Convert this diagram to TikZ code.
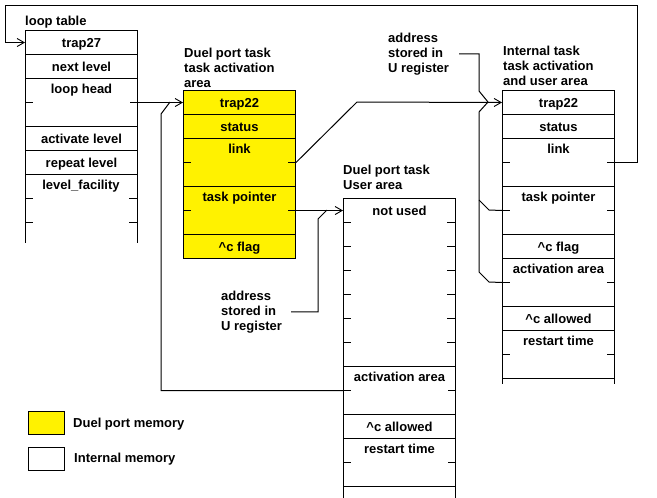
\documentclass[tikz,border=0pt]{standalone}
\usepackage{fontspec}
\setmainfont{Liberation Sans}
\usetikzlibrary{arrows.meta}
\tikzset{
  memcell/.style={draw, line width=1pt, rectangle, inner sep=0pt, minimum width=112pt},
  celltext/.style={anchor=base, inner sep=0pt, font=\fontsize{13}{15}\selectfont\bfseries},
  title/.style={inner sep=0pt, align=left, font=\fontsize{13}{15}\selectfont\bfseries},
  tick/.style={line width=1pt},
  wire/.style={line width=1pt},
  arr/.style={wire, -{Straight Barb[length=7pt,width=8pt,line width=0.9pt]}},
  legbox/.style={draw, line width=1pt, rectangle, inner sep=0pt, minimum width=36pt, minimum height=23pt, anchor=north west},
}
\newcommand\memrow[6][white]{%
  \node[memcell, fill=#1, minimum height=#5*24pt, anchor=north west] (#2) at (#3,#4) {};
  \ifnum#5=1
    \node[celltext] (#2-t) at ([yshift=-17pt]#2.north) {#6};
  \else
    \node[celltext] (#2-t) at ([yshift=-15pt]#2.north) {#6};
    \draw[tick] (#2.west) -- ++(8,0) (#2.east) -- ++(-8,0);
  \fi}
\begin{document}
\begin{tikzpicture}[x=1pt, y=-1pt]
\useasboundingbox (0,0) rectangle (657,498);
\fill[white] (0,0) rectangle (657,498);

% ---------- loop table ----------
\node[title, anchor=base west] (lt) at (25,25) {loop table};
\memrow{ltrap}{25}{30}{1}{trap27}
\memrow{lnext}{25}{54}{1}{next level}
\memrow{lh}{25}{78}{2}{loop head}
\memrow{lact}{25}{126}{1}{activate level}
\memrow{lrep}{25}{150}{1}{repeat level}
\node[celltext] (lf) at (81,189) {level\_facility};
\draw[tick] (25,174) -- (25,243) (137,174) -- (137,243);
\foreach \yy in {198,222} \draw[tick] (25,\yy) -- ++(8,0) (137,\yy) -- ++(-8,0);

% ---------- duel port task activation area ----------
\node[title, anchor=north west] (dat) at (184,47.5) {Duel port task\\task activation\\area};
\memrow[yellow]{dtrap}{183}{90}{1}{trap22}
\memrow[yellow]{dstat}{183}{114}{1}{status}
\memrow[yellow]{dlink}{183}{138}{2}{link}
\memrow[yellow]{dtp}{183}{186}{2}{task pointer}
\memrow[yellow]{dcf}{183}{234}{1}{\^{}c flag}

% ---------- duel port task user area ----------
\node[title, anchor=north west] (dut) at (343,164.5) {Duel port task\\User area};
\node[memcell, minimum height=168pt, anchor=north west] (nu) at (343,198) {};
\node[celltext] (nu-t) at ([yshift=-17pt]nu.north) {not used};
\foreach \k in {1,...,6} \draw[tick] (343,198+24*\k) -- ++(8,0) (455,198+24*\k) -- ++(-8,0);
\memrow{uact}{343}{366}{2}{activation area}
\memrow{uca}{343}{414}{1}{\^{}c allowed}
\memrow{urt}{343}{438}{2}{restart time}
\draw[tick] (343,486) -- (343,499) (455,486) -- (455,499);

% ---------- internal task ----------
\node[title, anchor=north west] (itt) at (503,46) {Internal task\\task activation\\and user area};
\memrow{itrap}{502}{90}{1}{trap22}
\memrow{istat}{502}{114}{1}{status}
\memrow{ilink}{502}{138}{2}{link}
\memrow{itp}{502}{186}{2}{task pointer}
\memrow{icf}{502}{234}{1}{\^{}c flag}
\memrow{iact}{502}{258}{2}{activation area}
\memrow{ica}{502}{306}{1}{\^{}c allowed}
\memrow{irt}{502}{330}{2}{restart time}
\draw[tick] (502,378) -- (502,384) (614,378) -- (614,384);

% ---------- address labels ----------
\node[title, anchor=north west] (addr1) at (388,32.5) {address\\stored in\\U register};
\node[title, anchor=north west] (addr2) at (221,290.5) {address\\stored in\\U register};

% ---------- coordinates for bends ----------
\coordinate (c1) at (637,5);
\coordinate (c2) at (5,5);
\coordinate (k1) at (357,102);
\coordinate (a1) at (161,114);
\coordinate (a2) at (170,102);
\coordinate (b1) at (318,219);
\coordinate (b2) at (327,210);
\coordinate (u1) at (479,91);
\coordinate (u2) at (488,102);
\coordinate (v1) at (489,282);
\coordinate (v2) at (479,272);
\coordinate (v3) at (479,112);
\coordinate (w1) at (489,210);
\coordinate (w2) at (479,200);

% ---------- connectors ----------
\draw[arr] (ilink.east) -| (c1) -- (c2) |- (ltrap.west);
\draw[arr] (lh.east) -- (dtrap.west);
\draw[wire] (uact.west) -| (a1) -- (a2);
\draw[arr] (dlink.east) -- (k1) -- (itrap.west);
\draw[arr] (dtp.east) -- (dtp.east -| nu.west);
\draw[wire] ([xshift=9pt]addr2.east) -| (b1) -- (b2);
\draw[wire] ([xshift=10pt]addr1.east) -| (u1) -- (u2);
\draw[wire] (iact.west) -- (v1) -- (v2) -- (v3) -- (u2);
\draw[wire] (itp.west) -- (w1) -- (w2);

% ---------- legend ----------
\node[legbox, fill=yellow] (legy) at (28,411) {};
\node[title, anchor=base west] (legyt) at (73,427) {Duel port memory};
\node[legbox, fill=white] (legw) at (28,447) {};
\node[title, anchor=base west] (legwt) at (74,462) {Internal memory};
\end{tikzpicture}
\end{document}
